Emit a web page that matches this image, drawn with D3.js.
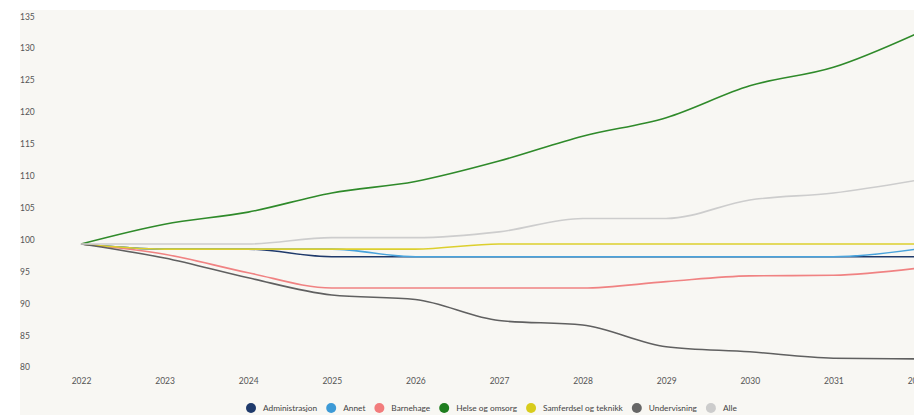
<!DOCTYPE html>
<html>
<head>
<meta charset="utf-8">
<script src="https://cdn.jsdelivr.net/npm/d3@7"></script>
<style>
  html, body { margin: 0; padding: 0; background: #ffffff; }
  svg { display: block; }
  text { font-family: Lato, "Open Sans", sans-serif; }
</style>
</head>
<body>
<svg id="chart" width="914" height="415"></svg>
<script>
// ---- data ----
const years = [2022, 2023, 2024, 2025, 2026, 2027, 2028, 2029, 2030, 2031, 2032];
const seriesNames = ["Administrasjon", "Annet", "Barnehage", "Helse og omsorg", "Samferdsel og teknikk", "Undervisning", "Alle"];
const administrasjon = [100, 99.2, 99.2, 98, 98, 98, 98, 98, 98, 98, 98];
const annet          = [100, 99.2, 99.2, 99.2, 98, 98, 98, 98, 98, 98, 99.2];
const barnehage      = [100, 98.4, 95.5, 93.1, 93.1, 93.1, 93.1, 94.1, 95, 95.1, 96.2];
const helseOgOmsorg  = [100, 103.1, 105, 108, 109.8, 113, 116.9, 119.8, 124.8, 127.7, 133];
const samferdsel     = [100, 99.2, 99.2, 99.2, 99.2, 100, 100, 100, 100, 100, 100];
const undervisning   = [100, 97.8, 94.7, 92, 91.3, 88, 87.3, 83.9, 83.1, 82.1, 82];
const alle           = [100, 100, 100, 101, 101, 101.9, 104, 104, 106.9, 108, 110];
const yTicks = [80, 85, 90, 95, 100, 105, 110, 115, 120, 125, 130, 135];
const xTickLabels = ["2022", "2023", "2024", "2025", "2026", "2027", "2028", "2029", "2030", "2031", "2032"];

const seriesValues = [administrasjon, annet, barnehage, helseOgOmsorg, samferdsel, undervisning, alle];
const lineColors = ["#1f3a6b", "#49a3dc", "#f08282", "#2f8a2a", "#dccf2e", "#606060", "#cdcdcd"];
const legendColors = ["#1f3a6b", "#3d9ad6", "#f27c7c", "#1e7d1e", "#d8cc1c", "#666666", "#cccccc"];

// ---- chart ----
const svg = d3.select("#chart");
const W = 914, H = 415;

svg.append("rect").attr("x", 20).attr("y", 10).attr("width", W - 20).attr("height", H - 10)
  .attr("fill", "#f8f7f3");

const x = d3.scaleLinear().domain([2022, 2032]).range([81, 917]);
const y = d3.scaleLinear().domain([80, 135]).range([371.6, 20.7]);

// y axis labels (left aligned, no line)
const yAxis = d3.axisLeft(y).tickValues(yTicks).tickSize(0).tickFormat(d3.format("d"));
const gy = svg.append("g").attr("transform", "translate(20,0)").call(yAxis);
gy.select(".domain").remove();
gy.selectAll("text")
  .attr("text-anchor", "start")
  .attr("x", 0)
  .attr("dy", "-0.2em")
  .attr("fill", "#555")
  .style("font-size", "8.5px");

// x axis labels
const xAxis = d3.axisBottom(x).tickValues(years).tickSize(0)
  .tickFormat((d, i) => xTickLabels[i]);
const gx = svg.append("g").attr("transform", "translate(0,376)").call(xAxis);
gx.select(".domain").remove();
gx.selectAll("text").attr("fill", "#555").style("font-size", "8.5px").attr("dy", "0.6em");

// lines
const line = d3.line()
  .x((d, i) => x(years[i]))
  .y(d => y(d))
  .curve(d3.curveMonotoneX);

svg.append("clipPath").attr("id", "plotclip")
  .append("rect").attr("x", 20).attr("y", 10).attr("width", W - 20).attr("height", H - 10);

const lines = svg.append("g").attr("clip-path", "url(#plotclip)");
seriesValues.forEach((vals, i) => {
  lines.append("path")
    .datum(vals)
    .attr("d", line)
    .attr("fill", "none")
    .attr("stroke", lineColors[i])
    .attr("stroke-width", 1.6)
    .attr("stroke-linejoin", "round");
});

// legend
const legend = svg.append("g");
let cx = 251;
const ly = 408;
seriesNames.forEach((name, i) => {
  legend.append("circle").attr("cx", cx).attr("cy", ly).attr("r", 5).attr("fill", legendColors[i]);
  const t = legend.append("text").attr("x", cx + 12).attr("y", ly).attr("dy", "0.35em")
    .attr("fill", "#444").style("font-size", "8.3px").text(name);
  const w = t.node().getComputedTextLength();
  cx = cx + 12 + w + 14;
});
</script>
</body>
</html>
